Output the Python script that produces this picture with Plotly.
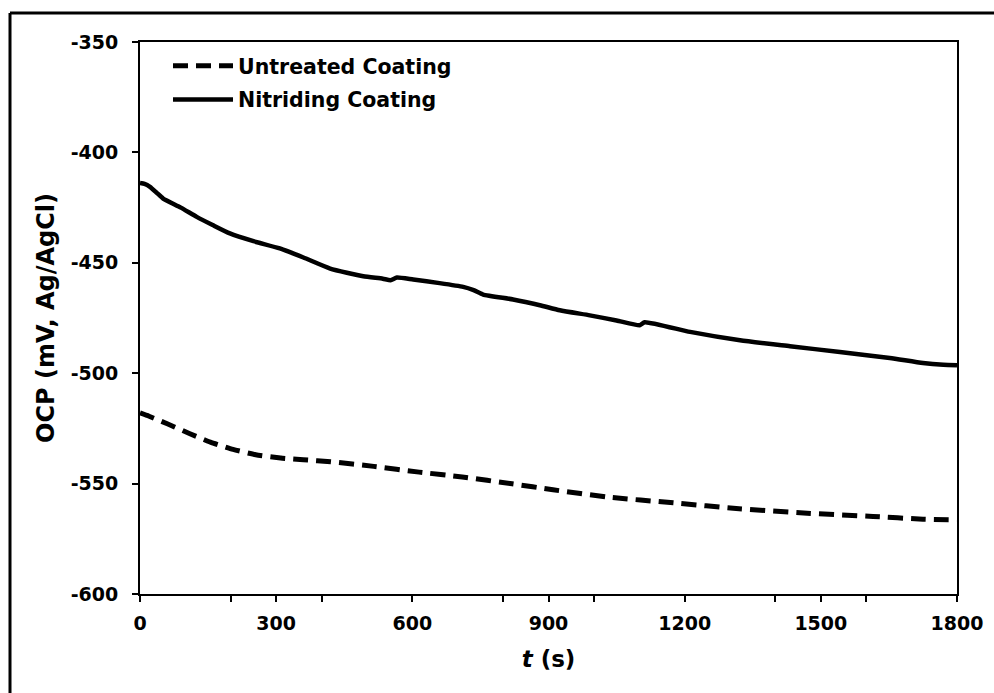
import plotly.graph_objects as go

# Open-circuit potential vs. immersion time
t_untreated = [0, 20, 60, 110, 155, 205, 255, 310, 360, 420, 515, 615, 710, 820, 910,
               1030, 1175, 1320, 1470, 1615, 1725, 1800]
ocp_untreated = [-518.0, -519.5, -522.9, -527.4, -531.2, -534.5, -536.9, -538.4, -539.2,
                 -540.1, -542.2, -544.8, -547.0, -550.1, -552.8, -556.1, -558.7, -561.4,
                 -563.4, -564.9, -566.1, -566.4]

t_nitriding = [0, 10, 22, 37, 51, 90, 125, 160, 198, 250, 308, 360, 419, 492, 535, 552,
               566, 602, 660, 712, 735, 756, 822, 881, 925, 991, 1050, 1101, 1112, 1212,
               1322, 1432, 1542, 1652, 1725, 1770, 1800]
ocp_nitriding = [-413.9, -414.3, -415.6, -418.3, -420.9, -425.0, -429.2, -432.9, -436.7,
                 -440.2, -443.5, -447.6, -452.6, -456.1, -457.2, -457.9, -456.7, -457.6,
                 -459.2, -460.9, -462.4, -464.4, -466.6, -469.2, -471.5, -473.8, -476.1,
                 -478.3, -476.9, -481.3, -485.1, -487.8, -490.4, -493.1, -495.4, -496.2,
                 -496.4]

x_ticks = [0, 300, 600, 900, 1200, 1500, 1800]
y_ticks = [-600, -550, -500, -450, -400, -350]

FONT = "DejaVu Sans, Liberation Sans, Arial, sans-serif"

fig = go.Figure()
fig.add_trace(go.Scatter(
    x=t_untreated, y=ocp_untreated, mode="lines", name="<b>Untreated Coating</b>",
    legendgroup="a",
    line=dict(color="black", width=5, dash="15px,8px", shape="spline", smoothing=0.5),
))
fig.add_trace(go.Scatter(
    x=t_nitriding, y=ocp_nitriding, mode="lines", name="<b>Nitriding Coating</b>",
    legendgroup="b",
    line=dict(color="black", width=4.5, shape="spline", smoothing=0.5),
))

axis_common = dict(
    showline=True, linecolor="black", linewidth=2, mirror=True,
    showgrid=False, zeroline=False,
    ticks="outside", ticklen=6, tickwidth=1.5, tickcolor="black",
    tickfont=dict(family=FONT, size=19, color="black"),
)

fig.update_xaxes(
    range=[0, 1800], tickvals=x_ticks, ticktext=[f"<b>{v}</b>" for v in x_ticks],
    minor=dict(tickvals=[200, 400, 800, 1000, 1400, 1600], ticks="outside",
               ticklen=6, tickwidth=1.5, tickcolor="black"),
    ticklabelstandoff=5,
    title=dict(text="<b><i>t</i> (s)</b>", standoff=18,
               font=dict(family=FONT, size=23, color="black")),
    **axis_common,
)
fig.update_yaxes(
    range=[-600, -350], tickvals=y_ticks, ticktext=[f"<b>{v}</b>" for v in y_ticks],
    ticklabelstandoff=10,
    title=dict(text="<b>OCP (mV, Ag/AgCl)</b>", standoff=9,
               font=dict(family=FONT, size=24, color="black")),
    **axis_common,
)

# Plot area: 140..957 px horizontally, 42..594 px vertically
L, R, T, B = 140, 37, 42, 99
W, H = 994, 693
pw, ph = W - L - R, H - T - B

def px_x(p):
    return (p - L) / pw

def px_y(p):
    return (H - B - p) / ph

# Frame lines along the top and left of the figure
fig.add_shape(type="line", xref="paper", yref="paper",
              x0=px_x(10), x1=px_x(1000), y0=px_y(13), y1=px_y(13),
              line=dict(color="black", width=3))
fig.add_shape(type="line", xref="paper", yref="paper",
              x0=px_x(10), x1=px_x(10), y0=px_y(13), y1=px_y(700),
              line=dict(color="black", width=3))

fig.update_layout(
    width=W, height=H,
    margin=dict(l=L, r=R, t=T, b=B),
    paper_bgcolor="white", plot_bgcolor="white",
    showlegend=True,
    legend=dict(
        x=px_x(168), y=px_y(46), xanchor="left", yanchor="top",
        bgcolor="rgba(0,0,0,0)", borderwidth=0,
        font=dict(family=FONT, size=20.5, color="black"),
        itemwidth=60, traceorder="grouped", tracegroupgap=4,
    ),
)

fig.write_html("out.html")
